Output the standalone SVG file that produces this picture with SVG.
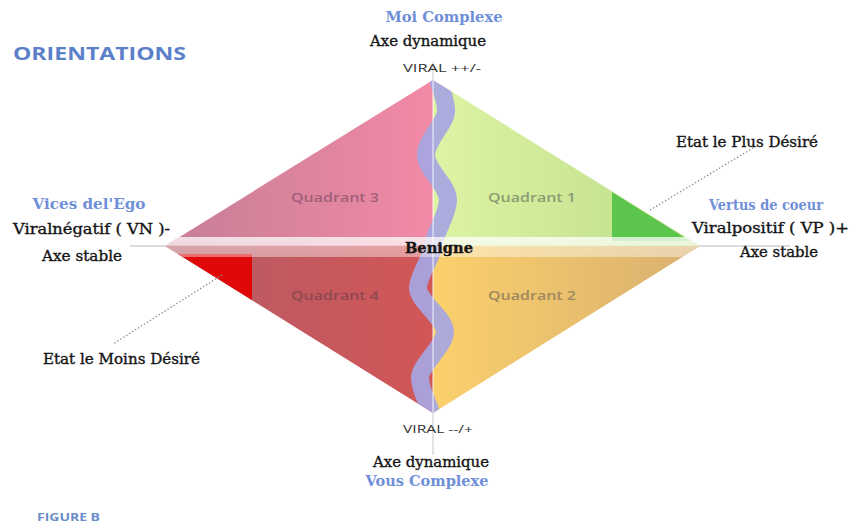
<svg xmlns="http://www.w3.org/2000/svg" width="850" height="524" viewBox="0 0 850 524">
<style>
.serif{font-family:"DejaVu Serif","Liberation Serif",serif;font-size:14px;fill:#151515;stroke:#151515;stroke-width:0.35}
.blue{font-family:"DejaVu Serif","Liberation Serif",serif;font-size:14px;fill:#6f8fd8;font-weight:bold}
.sans{font-family:"Open Sans","DejaVu Sans",sans-serif}
.quad{font-family:"Open Sans","DejaVu Sans",sans-serif;font-size:13px;font-weight:600}
.dot{stroke:#8a8a8a;stroke-width:1.2;stroke-dasharray:1.5 2;fill:none}
</style>
<defs>
<linearGradient id="gQ3" x1="165" y1="0" x2="433" y2="0" gradientUnits="userSpaceOnUse"><stop offset="0" stop-color="#c67e95"/><stop offset="1" stop-color="#f28aa6"/></linearGradient>
<linearGradient id="gQ1" x1="433" y1="0" x2="700" y2="0" gradientUnits="userSpaceOnUse"><stop offset="0" stop-color="#ddf4a4"/><stop offset="1" stop-color="#bcdc8a"/></linearGradient>
<linearGradient id="gQ4" x1="165" y1="0" x2="433" y2="0" gradientUnits="userSpaceOnUse"><stop offset="0" stop-color="#b45c68"/><stop offset="1" stop-color="#d25656"/></linearGradient>
<linearGradient id="gQ2" x1="433" y1="0" x2="700" y2="0" gradientUnits="userSpaceOnUse"><stop offset="0" stop-color="#fbd06c"/><stop offset="1" stop-color="#d8b070"/></linearGradient>
<linearGradient id="gBand" x1="0" y1="237" x2="0" y2="257" gradientUnits="userSpaceOnUse"><stop offset="0" stop-color="#fff" stop-opacity="0.75"/><stop offset="0.4" stop-color="#fff" stop-opacity="0.7"/><stop offset="0.45" stop-color="#fff" stop-opacity="0.45"/><stop offset="1" stop-color="#fff" stop-opacity="0.4"/></linearGradient>
<clipPath id="dia"><polygon points="433,80 700,246 433,413 165,246"/></clipPath>
</defs>

<text id="title" class="sans" x="13" y="60" font-size="17" font-weight="bold" fill="#5b80c9" textLength="173" lengthAdjust="spacingAndGlyphs">ORIENTATIONS</text>

<g id="axes">
<line x1="130" y1="246" x2="790" y2="246" stroke="#b8b8b8" stroke-width="1"/>
<line x1="433" y1="62" x2="433" y2="455" stroke="#c8c8c8" stroke-width="1"/>
</g>

<g id="diamond">
<g id="quadrant3"><polygon points="433,80 165,246 433,246" fill="url(#gQ3)"/><text class="quad" x="335" y="202" text-anchor="middle" fill="#a25f7a" textLength="88" lengthAdjust="spacingAndGlyphs">Quadrant 3</text></g>
<g id="quadrant1"><polygon points="433,80 700,246 433,246" fill="url(#gQ1)"/><polygon points="612,192 690,241 612,241" fill="#5cc64c"/><text class="quad" x="532" y="202" text-anchor="middle" fill="#8c9c72" textLength="88" lengthAdjust="spacingAndGlyphs">Quadrant 1</text></g>
<g id="quadrant4"><polygon points="165,246 433,246 433,413" fill="url(#gQ4)"/><polygon points="178,254 252,254 252,300" fill="#e00808"/><text class="quad" x="335" y="300" text-anchor="middle" fill="#8e4850" textLength="88" lengthAdjust="spacingAndGlyphs">Quadrant 4</text></g>
<g id="quadrant2"><polygon points="433,246 700,246 433,413" fill="url(#gQ2)"/><text class="quad" x="532" y="300" text-anchor="middle" fill="#a08860" textLength="88" lengthAdjust="spacingAndGlyphs">Quadrant 2</text></g>
<g clip-path="url(#dia)">
<path d="M436,70 C440,90 447,100 446,112 S426,140 426,155 S448,185 448,200 S433,236 433,246 S418,275 418,288 S445,318 445,332 S420,365 420,378 S430,405 433,420" fill="none" stroke="#a6a6e2" stroke-width="18" stroke-opacity="0.92"/>
<line x1="433" y1="80" x2="433" y2="413" stroke="#ffffff" stroke-width="1.5" stroke-opacity="0.6"/>
<rect x="160" y="237" width="545" height="20" fill="url(#gBand)"/>
</g>
<text id="benigne" class="serif" x="439" y="253" text-anchor="middle" font-weight="bold" font-size="15" textLength="68" lengthAdjust="spacingAndGlyphs">Benigne</text>
</g>

<g id="connectors">
<line class="dot" x1="650" y1="210" x2="753" y2="148"/>
<line class="dot" x1="222" y1="275" x2="113" y2="344"/>
</g>

<g id="top">
<text class="blue" x="444" y="22" text-anchor="middle" textLength="117" lengthAdjust="spacingAndGlyphs">Moi Complexe</text>
<text class="serif" x="428" y="46" text-anchor="middle" textLength="116" lengthAdjust="spacingAndGlyphs">Axe dynamique</text>
<text class="sans" x="403" y="72" font-size="10" fill="#333" textLength="78" lengthAdjust="spacingAndGlyphs">VIRAL  ++/-</text>
</g>

<g id="bottom">
<text class="sans" x="403" y="433" font-size="10" fill="#333" textLength="70" lengthAdjust="spacingAndGlyphs">VIRAL --/+</text>
<text class="serif" x="431" y="467" text-anchor="middle" textLength="116" lengthAdjust="spacingAndGlyphs">Axe dynamique</text>
<text class="blue" x="427" y="486" text-anchor="middle" textLength="123" lengthAdjust="spacingAndGlyphs">Vous Complexe</text>
</g>

<g id="left">
<text class="blue" x="89" y="209" text-anchor="middle" textLength="113" lengthAdjust="spacingAndGlyphs">Vices del'Ego</text>
<text class="serif" x="13" y="234" textLength="157" lengthAdjust="spacingAndGlyphs">Viralnégatif ( VN )-</text>
<text class="serif" x="82" y="261" text-anchor="middle" textLength="80" lengthAdjust="spacingAndGlyphs">Axe stable</text>
<text class="serif" x="43" y="364" textLength="157" lengthAdjust="spacingAndGlyphs">Etat le Moins Désiré</text>
</g>

<g id="right">
<text class="serif" x="676" y="147" textLength="142" lengthAdjust="spacingAndGlyphs">Etat le Plus Désiré</text>
<text class="blue" x="766" y="210" text-anchor="middle" textLength="114" lengthAdjust="spacingAndGlyphs">Vertus de coeur</text>
<text class="serif" x="692" y="233" textLength="157" lengthAdjust="spacingAndGlyphs">Viralpositif ( VP )+</text>
<text class="serif" x="779" y="257" text-anchor="middle" textLength="78" lengthAdjust="spacingAndGlyphs">Axe stable</text>
</g>

<text id="figure" class="sans" x="37" y="521" font-size="10" font-weight="bold" fill="#6a8cc8" textLength="63" lengthAdjust="spacingAndGlyphs">FIGURE B</text>
</svg>
